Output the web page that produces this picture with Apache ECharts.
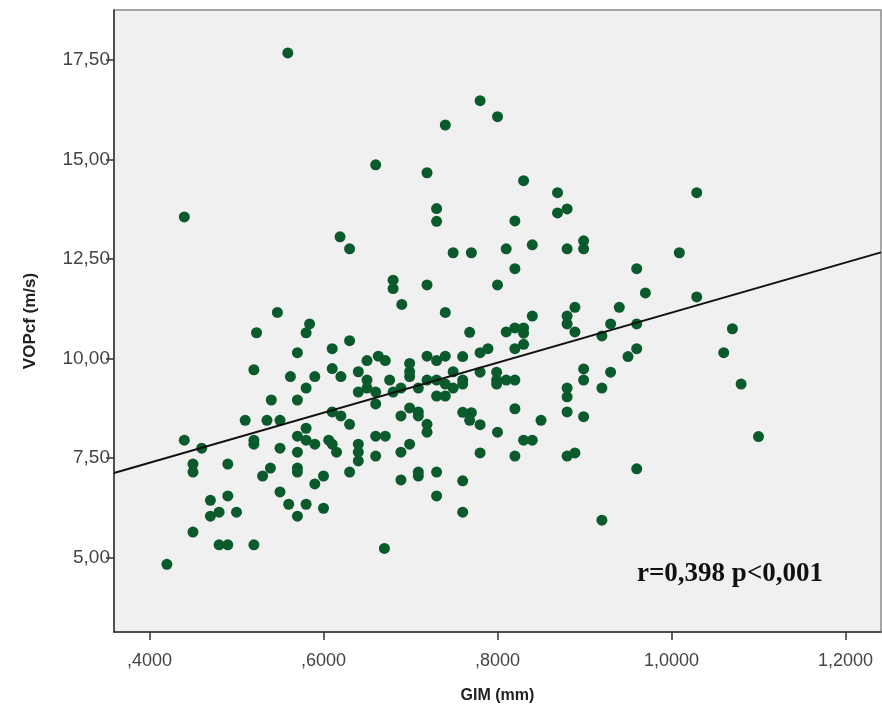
<!DOCTYPE html>
<html>
<head>
<meta charset="utf-8">
<script src="https://cdn.jsdelivr.net/npm/echarts@6/dist/echarts.min.js"></script>
<style>
html,body{margin:0;padding:0;background:#fff;}
#chart{width:882px;height:709px;}
</style>
</head>
<body>
<div id="chart"></div>
<script>
// GIM (mm) values
const gim = [
0.559,0.740,0.660,0.719,0.440,0.730,0.730,0.619,0.630,0.749,0.770,0.680,0.680,0.719,0.690,0.547,0.740,
0.780,0.800,0.830,0.869,1.029,0.880,0.869,0.820,0.810,0.840,0.880,0.899,0.899,1.009,0.820,0.960,0.800,
0.970,1.029,0.889,0.940,0.840,0.880,0.880,0.889,0.930,0.960,0.920,1.070,1.060,0.960,0.950,0.768,0.810,
0.820,0.830,0.830,0.830,0.820,0.789,0.780,0.760,0.780,0.799,0.799,0.799,0.810,0.820,0.899,0.930,0.899,
0.880,0.880,0.920,1.080,0.820,0.880,0.899,0.850,0.760,0.770,0.768,0.780,0.800,0.830,0.840,0.780,0.820,
0.880,0.889,1.100,0.960,0.760,0.760,0.920,
0.523,0.584,0.580,0.630,0.570,0.610,0.520,0.562,0.590,0.610,0.620,0.640,0.650,0.663,0.671,0.699,0.699,
0.699,0.719,0.730,0.740,0.749,0.760,0.760,0.676,0.689,0.650,0.650,0.640,0.660,0.680,0.709,0.719,0.730,
0.740,0.749,0.730,0.740,0.660,0.580,0.540,0.570,0.510,0.535,0.550,0.610,0.620,0.630,0.580,0.570,0.580,
0.590,0.606,0.610,0.615,0.640,0.640,0.640,0.660,0.671,0.660,0.689,0.699,0.709,0.709,0.719,0.719,0.699,
0.689,0.440,0.460,0.520,0.520,0.550,0.570,0.450,0.450,0.490,0.539,0.530,0.570,0.570,0.600,0.590,0.630,
0.689,0.709,0.709,0.730,0.470,0.490,0.470,0.480,0.500,0.550,0.560,0.580,0.600,0.570,0.730,0.450,0.480,
0.490,0.520,0.670,0.420
];
// VOPcf (m/s) values
const vop = [
17.68,15.87,14.87,14.67,13.56,13.77,13.45,13.06,12.76,12.66,12.66,11.97,11.76,11.85,11.36,11.16,11.16,
16.48,16.08,14.47,14.17,14.17,13.76,13.66,13.46,12.76,12.86,12.76,12.96,12.76,12.66,12.26,12.26,11.85,
11.65,11.55,11.29,11.29,11.07,11.07,10.87,10.67,10.87,10.87,10.57,10.75,10.15,10.25,10.05,10.66,10.67,
10.77,10.77,10.64,10.36,10.25,10.25,10.15,10.05,9.66,9.66,9.46,9.36,9.46,9.46,9.74,9.66,9.46,
9.26,9.04,9.26,9.36,8.74,8.66,8.54,8.45,8.65,8.64,8.45,8.34,8.15,7.95,7.95,7.63,7.55,
7.55,7.63,8.04,7.23,6.93,6.14,5.94,
10.65,10.87,10.65,10.45,10.15,10.25,9.72,9.55,9.55,9.75,9.55,9.67,9.95,10.06,9.95,9.88,9.67,
9.55,10.06,9.95,10.06,9.67,9.46,9.36,9.46,9.26,9.46,9.26,9.16,9.16,9.16,9.26,9.46,9.46,
9.36,9.26,9.06,9.06,8.86,9.26,8.96,8.96,8.45,8.45,8.45,8.66,8.56,8.35,8.25,8.05,7.95,
7.85,7.95,7.85,7.65,7.85,7.65,7.43,8.05,8.05,7.55,8.56,8.76,8.66,8.56,8.35,8.15,7.85,
7.65,7.95,7.75,7.95,7.85,7.75,7.65,7.35,7.15,7.35,7.25,7.05,7.25,7.15,7.05,6.85,7.15,
6.95,7.15,7.05,7.15,6.44,6.55,6.04,6.14,6.14,6.65,6.34,6.34,6.24,6.04,6.55,5.64,5.32,
5.32,5.32,5.23,4.83
];
// Linear fit
const fitIntercept = 4.869;
const fitSlope = 6.287;
// Tick values
const xTicks = [0.4, 0.6, 0.8, 1.0, 1.2];
const yTicks = [5, 7.5, 10, 12.5, 15, 17.5];
const xMin = 0.3592, xMax = 1.2408;
const yMin = 3.13, yMax = 18.76;
const annotation = 'r=0,398 p<0,001';

const points = gim.map((g, i) => [g, vop[i]]);
const fitLine = [[xMin, fitIntercept + fitSlope * xMin], [xMax, fitIntercept + fitSlope * xMax]];

const fmtX = v => v.toFixed(4).replace('.', ',').replace(/^0/, '');
const fmtY = v => v.toFixed(2).replace('.', ',');

const chart = echarts.init(document.getElementById('chart'), null, {renderer: 'canvas'});
chart.setOption({
  animation: false,
  backgroundColor: '#ffffff',
  grid: {
    left: 114, right: 1, top: 10, bottom: 77,
    show: true, backgroundColor: '#f0f0f0', borderColor: '#8a8a8a', borderWidth: 1.5
  },
  xAxis: {
    type: 'value', min: xMin, max: xMax,
    name: 'GIM (mm)', nameLocation: 'middle', nameGap: 56,
    nameTextStyle: {fontFamily: 'Liberation Sans', fontWeight: 'bold', fontSize: 16, color: '#222'},
    axisLine: {show: true, onZero: false, lineStyle: {color: '#333', width: 1.5}},
    axisTick: {show: true, length: 8, customValues: xTicks, lineStyle: {color: '#333', width: 1.5}},
    axisLabel: {customValues: xTicks, formatter: fmtX, fontFamily: 'Liberation Sans', fontSize: 18, color: '#444', margin: 20},
    splitLine: {show: false}
  },
  yAxis: {
    type: 'value', min: yMin, max: yMax,
    name: 'VOPcf (m/s)', nameLocation: 'middle', nameGap: 75, nameRotate: 90,
    nameTextStyle: {fontFamily: 'Liberation Sans', fontWeight: 'bold', fontSize: 17, color: '#222'},
    axisLine: {show: true, onZero: false, lineStyle: {color: '#333', width: 1.5}},
    axisTick: {show: true, length: 8, customValues: yTicks, lineStyle: {color: '#333', width: 1.5}},
    axisLabel: {customValues: yTicks, formatter: fmtY, fontFamily: 'Liberation Sans', fontSize: 19, color: '#444', margin: 4},
    splitLine: {show: false}
  },
  series: [
    {
      type: 'scatter', data: points, symbol: 'circle', symbolSize: 11,
      itemStyle: {color: '#0b5a2c', opacity: 1}, z: 2
    },
    {
      type: 'line', data: fitLine, showSymbol: false, symbol: 'none',
      lineStyle: {color: '#111', width: 2}, z: 3, silent: true
    }
  ],
  graphic: [{
    type: 'text', left: 637, top: 561, z: 10,
    style: {text: annotation, font: 'bold 27px "Liberation Serif"', fill: '#111'}
  }]
});
</script>
</body>
</html>
